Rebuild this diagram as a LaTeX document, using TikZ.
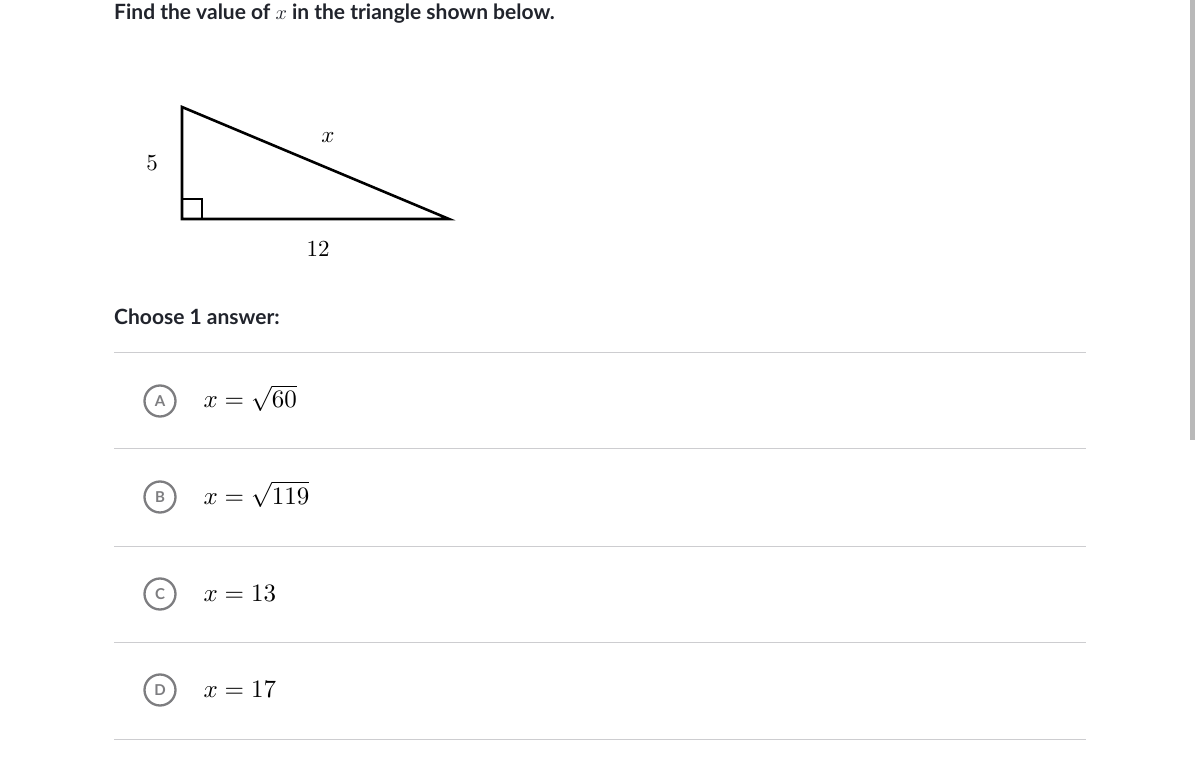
\documentclass[tikz,border=0pt]{standalone}
\usepackage{fontspec}
\usepackage{amsmath}
\usepackage{graphicx}
\newfontfamily\lato{Lato}
\usetikzlibrary{positioning}

\definecolor{textdark}{RGB}{33,36,44}
\definecolor{ringgray}{RGB}{125,125,128}
\definecolor{rulegray}{RGB}{205,205,208}

\newcommand{\bigx}{\scalebox{2.0}{\normalsize$x$}}

\tikzset{
  qtext/.style={anchor=base west, inner sep=0pt, font=\lato\bfseries\fontsize{21}{25}\selectfont, text=textdark},
  choicering/.style={draw=ringgray, line width=2.3pt, circle, minimum size=31pt, inner sep=0pt,
    font=\lato\bfseries\fontsize{15}{17}\selectfont, text=ringgray},
  choicemath/.style={anchor=base west, inner sep=0pt, font=\normalsize, scale=2.5},
  sepline/.style={draw=rulegray, line width=1pt},
  sidelabel/.style={inner sep=0pt, font=\normalsize, scale=2.3}
}

\begin{document}
\begin{tikzpicture}[x=1pt, y=-1pt]
    \useasboundingbox[fill=white] (0,0) rectangle (1200,775);

    % Question
    \node[qtext] (question) at (114,20) {Find the value of \bigx{} in the triangle shown below.};

    % Triangle
    \coordinate (top) at (182,107);
    \coordinate (corner) at (182,219);
    \coordinate (tip) at (449,219);
    \draw[line width=2.6pt, line join=miter] (top) -- (corner) -- (tip) -- cycle;
    \draw[line width=1.2pt] (corner) ++(0,-20) -| ++(20,20);

    \node[sidelabel] (lbl5) at (152,163) {$5$};
    \node[sidelabel] (lblx) at (328,138) {$x$};
    \node[sidelabel] (lbl12) at (318,249) {$12$};

    % Answers
    \node[qtext] (choose) at (114,325) {Choose 1 answer:};

    \foreach \yy in {353,449,546,642,739}
        \draw[sepline] (114,\yy) -- (1086,\yy);

    \node[choicering] (ringA) at (160,401) {A};
    \node[choicering] (ringB) at (160,497) {B};
    \node[choicering] (ringC) at (160,594) {C};
    \node[choicering] (ringD) at (160,690) {D};

    \node[choicemath] (ansA) at (203,408) {$x=\sqrt{60}$};
    \node[choicemath] (ansB) at (203,504) {$x=\sqrt{119}$};
    \node[choicemath] (ansC) at (203,601) {$x=13$};
    \node[choicemath] (ansD) at (203,697) {$x=17$};

    % Scrollbar
    \fill[gray!55] (1190,0) rectangle (1195,440);
\end{tikzpicture}
\end{document}
